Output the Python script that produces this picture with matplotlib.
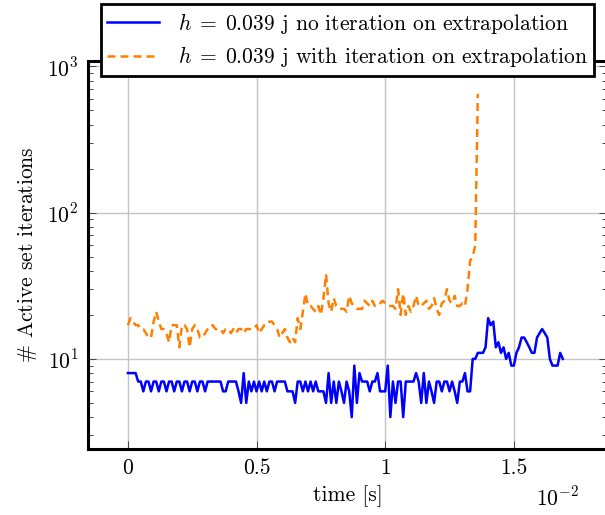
import matplotlib
matplotlib.use("Agg")
import matplotlib.pyplot as plt
import numpy as np
from matplotlib.ticker import FixedLocator, LogLocator, NullFormatter

plt.rcParams["font.family"] = "cmr10"
plt.rcParams["mathtext.fontset"] = "cm"
plt.rcParams["axes.unicode_minus"] = False

# time step of the samples, in units of 1e-2 s
dt = 0.01

# active set iterations, no iteration on extrapolation
iters_no_iter = [
    8, 8, 8, 8, 7, 7, 6, 7, 7, 6, 7, 7, 6, 7, 7, 6, 7, 7, 6, 7,
    7, 6, 7, 7, 6, 7, 7, 6, 7, 7, 6, 7, 7, 7, 7, 7, 7, 6, 6, 7,
    7, 7, 7, 6, 5, 8, 5, 7, 6, 7, 6, 7, 6, 7, 6, 7, 7, 6, 7, 7,
    7, 7, 6, 6, 6, 5, 7, 7, 6, 7, 6, 7, 6, 7, 6, 6, 6, 5, 8, 5,
    7, 5, 7, 6, 5, 7, 6, 4, 9, 5, 8, 7, 7, 7, 6, 7, 7, 8, 6, 6,
    6, 9, 4, 7, 5, 7, 7, 4, 7, 7, 7, 7, 8, 7, 5, 8, 5, 7, 6, 5,
    7, 7, 6, 7, 7, 6, 7, 6, 5, 7, 7, 8, 6, 6, 10, 10, 11, 11, 11, 12,
    19, 17, 18, 12, 13, 11, 12, 10, 11, 9, 9, 11, 12, 14, 14, 13, 12, 11, 11, 14,
    15, 16, 15, 14, 10, 9, 9, 9, 11, 10,
]

# active set iterations, with iteration on extrapolation
iters_with_iter = [
    17, 19, 18, 17, 17, 16, 16, 15, 14, 14, 18, 21, 18, 16, 16, 15, 13, 17, 17, 17,
    12, 17, 17, 16, 12, 16, 17, 16, 14, 14, 15, 16, 17, 17, 16, 16, 16, 15, 16, 16,
    15, 16, 15, 16, 16, 15, 16, 16, 16, 16, 17, 15, 16, 17, 17, 18, 18, 17, 16, 14,
    15, 16, 14, 13, 14, 13, 19, 16, 21, 28, 23, 23, 22, 21, 23, 20, 26, 38, 24, 21,
    26, 23, 22, 22, 22, 21, 27, 24, 23, 22, 22, 22, 25, 24, 23, 25, 23, 23, 24, 25,
    24, 23, 23, 23, 22, 30, 20, 28, 20, 23, 21, 23, 27, 23, 23, 24, 25, 22, 23, 26,
    22, 20, 24, 25, 30, 25, 24, 27, 23, 23, 24, 23, 30, 47, 50, 60, 650,
]

t_no = np.arange(len(iters_no_iter)) * dt
t_with = np.arange(len(iters_with_iter)) * dt

fig = plt.figure(figsize=(6.05, 5.15), dpi=100)
ax = fig.add_axes([88 / 605, 66 / 515, 519 / 605, 388 / 515])

ax.plot(t_no, iters_no_iter, color="#0000FF", lw=1.8,
        label=r"$h\;=\;0.039$ j no iteration on extrapolation")
ax.plot(t_with, iters_with_iter, color="#FF8000", lw=1.8, dashes=(3.2, 2.0),
        label=r"$h\;=\;0.039$ j with iteration on extrapolation")

ax.set_yscale("log")
ax.set_xlim(-0.155, 1.862)
ax.set_ylim(2.42, 1090)

ax.xaxis.set_major_locator(FixedLocator([0, 0.5, 1, 1.5]))
ax.set_xticklabels(["0", "0.5", "1", "1.5"])
ax.yaxis.set_major_locator(FixedLocator([10, 100, 1000]))
ax.set_yticklabels([r"$10^{1}$", r"$10^{2}$", r"$10^{3}$"])
ax.yaxis.set_minor_locator(LogLocator(base=10, subs=np.arange(2, 10)))
ax.yaxis.set_minor_formatter(NullFormatter())

ax.grid(True, which="major", color="#c4c4c4", lw=1.0)
ax.set_axisbelow(True)
ax.tick_params(which="both", direction="in", top=True, right=True,
               labelsize=15.5, color="#444444", width=0.7)
ax.tick_params(which="major", length=6, pad=7)
ax.tick_params(which="minor", length=3.5)
for sp in ax.spines.values():
    sp.set_linewidth(2.2)

ax.set_xlabel("time [s]", fontsize=15.5, labelpad=5)
ax.set_ylabel(r"$\#$ Active set iterations", fontsize=15.5, labelpad=6)
ax.text(0.905, -0.125, r"$10^{-2}$", transform=ax.transAxes, fontsize=15.5,
        ha="center", va="center")

leg = ax.legend(loc="upper center", bbox_to_anchor=(0.5, 1.146), fontsize=15.5,
                fancybox=False, edgecolor="black", framealpha=1.0,
                borderaxespad=0, handlelength=2.4, handletextpad=0.9,
                labelspacing=0.4, borderpad=0.3)
leg.get_frame().set_linewidth(2.0)

fig.savefig("out.png", dpi=100)
